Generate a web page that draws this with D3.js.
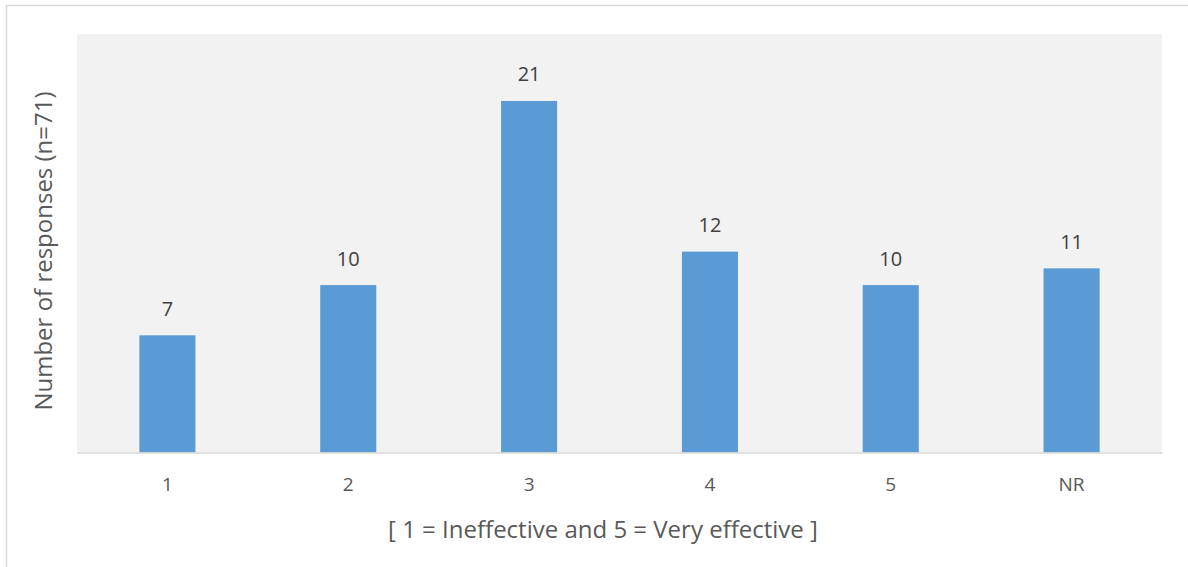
<!DOCTYPE html>
<html>
<head>
<meta charset="utf-8">
<script src="https://cdn.jsdelivr.net/npm/d3@7"></script>
<style>
  html, body { margin: 0; padding: 0; background: #ffffff; }
  svg { display: block; }
  text { font-family: "Open Sans", "Noto Sans", sans-serif; }
</style>
</head>
<body>
<svg id="chart" width="1188" height="567"></svg>
<script>
// Ratings of effectiveness (1 = Ineffective, 5 = Very effective, NR = no response)
const categories = ["1", "2", "3", "4", "5", "NR"];
const responses = [7, 10, 21, 12, 10, 11];
const yAxisTitle = "Number of responses (n=71)";
const xAxisTitle = "[ 1 = Ineffective and 5 = Very effective ]";

const svg = d3.select("#chart");
const W = 1188, H = 567;
const plot = { left: 77, right: 1162, top: 34, bottom: 452.5 };

// Chart frame
svg.append("rect")
  .attr("x", 6.5).attr("y", 5.5)
  .attr("width", W + 10).attr("height", H + 10)
  .attr("fill", "#ffffff")
  .attr("stroke", "#d9d9d9").attr("stroke-width", 1.5);

// Plot area background
svg.append("rect")
  .attr("x", plot.left).attr("y", plot.top)
  .attr("width", plot.right - plot.left).attr("height", plot.bottom - plot.top)
  .attr("fill", "#f2f2f2");

const x = d3.scaleBand()
  .domain(categories)
  .range([plot.left, plot.right])
  .paddingInner(0.69)
  .paddingOuter(0.345);

const y = d3.scaleLinear()
  .domain([0, 25])
  .range([plot.bottom, plot.top]);

const data = categories.map((c, i) => ({ cat: c, val: responses[i] }));

// Bars
svg.append("g").selectAll("rect")
  .data(data)
  .join("rect")
  .attr("x", d => x(d.cat))
  .attr("y", d => y(d.val))
  .attr("width", x.bandwidth())
  .attr("height", d => y(0) - y(d.val))
  .attr("fill", "#5b9bd5");

// Value labels
svg.append("g").selectAll("text")
  .data(data)
  .join("text")
  .attr("x", d => x(d.cat) + x.bandwidth() / 2)
  .attr("y", d => y(d.val) - 19.5)
  .attr("text-anchor", "middle")
  .attr("font-size", 20)
  .attr("fill", "#404040")
  .text(d => d.val);

// Category axis
const xAxis = svg.append("g")
  .attr("transform", `translate(0,${plot.bottom})`)
  .call(d3.axisBottom(x).tickSize(0).tickPadding(0));
xAxis.select(".domain").attr("stroke", "#d9d9d9").attr("stroke-width", 1.5);
xAxis.selectAll(".tick text")
  .attr("y", 38)
  .attr("dy", null)
  .attr("font-size", 19)
  .attr("font-family", "\"Open Sans\", \"Noto Sans\", sans-serif")
  .attr("fill", "#595959");

// Axis titles
svg.append("text")
  .attr("x", 603).attr("y", 538)
  .attr("text-anchor", "middle")
  .attr("font-size", 24)
  .attr("fill", "#595959")
  .text(xAxisTitle);

svg.append("text")
  .attr("transform", "translate(52,251) rotate(-90)")
  .attr("text-anchor", "middle")
  .attr("font-size", 24)
  .attr("fill", "#595959")
  .text(yAxisTitle);
</script>
</body>
</html>
